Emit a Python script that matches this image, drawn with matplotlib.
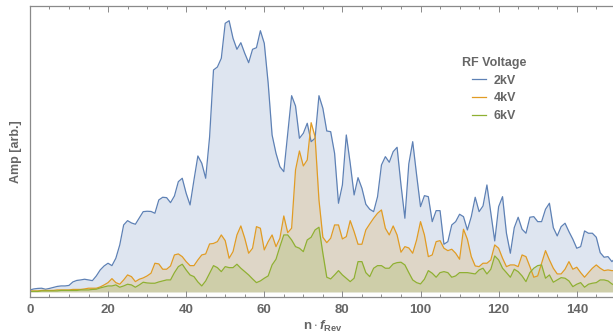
import numpy as np
import matplotlib
matplotlib.use('Agg')
from matplotlib import pyplot as plt
from matplotlib.ticker import MultipleLocator

plt.rcParams['font.family'] = ['Liberation Sans', 'DejaVu Sans']
plt.rcParams['mathtext.fontset'] = 'custom'
plt.rcParams['mathtext.rm'] = 'Liberation Sans:bold'
plt.rcParams['mathtext.it'] = 'Liberation Sans:italic:bold'
plt.rcParams['mathtext.bf'] = 'Liberation Sans:bold'

# amplitude per harmonic n = 0..150 (arbitrary units)
amp_2kv = [2, 3, 3.5, 3.7, 2.7, 3.5, 4.5, 5.5, 6, 6,
           6.5, 10, 11.5, 12, 12.7, 12, 11.3, 16, 22, 26,
           28.7, 26.3, 33.7, 47, 67, 71.3, 69, 67.7, 74, 80.3,
           80.7, 80.5, 78.7, 92, 94.7, 94.3, 89.3, 96, 110.3, 113.7,
           98.7, 87, 112, 136, 128.7, 113.7, 155, 222, 225, 233.7,
           268.7, 271.3, 253.7, 242.7, 249.3, 238.7, 229.3, 242.7, 244.3, 261.3,
           248.7, 208.7, 157, 138.7, 125.3, 120.3, 158.7, 196.3, 186, 153.7,
           158.7, 168.7, 150.3, 153.7, 196.3, 183.7, 161, 160.3, 138.7, 88.7,
           107, 157, 128.7, 97, 114.3, 103.7, 87.7, 82.7, 80.3, 95.3,
           127, 135.3, 129.7, 140.3, 144.7, 107, 73.7, 128, 150.3, 117,
           85.3, 96.3, 95.3, 70.3, 81.3, 81.3, 47.7, 50.3, 67, 70.3,
           77.7, 75.3, 62, 75.3, 94.7, 80.3, 86, 107, 78.7, 51,
           85.3, 95.3, 58.7, 38.7, 64.3, 74.7, 62.7, 58.7, 74.7, 75.3,
           70.3, 70.3, 82.7, 88.7, 64.3, 56, 65.3, 68.7, 60.3, 52.7,
           43.7, 45.3, 61, 58.7, 58.7, 54.7, 39.3, 34.7, 35.3, 30.3,
           34.3]
amp_4kv = [1, 1, 1, 1.5, 1.5, 1.5, 1.5, 2, 2, 2,
           2, 2.5, 2.5, 2.5, 3, 3.7, 3.7, 3.7, 5, 7,
           9.3, 13.3, 9.3, 7.7, 12, 17, 15.3, 10.3, 12.7, 14,
           16, 18.7, 28.7, 28, 22.7, 22.7, 26, 37, 38, 35.3,
           30.3, 26.3, 26.3, 32, 37, 38, 48, 48.5, 50.3, 57,
           51.3, 33.7, 40.3, 57, 66, 53.7, 38.7, 43.7, 65.3, 63.7,
           42, 50.3, 57, 45.3, 53.7, 76, 59.3, 63.7, 122, 141,
           126, 132, 169.3, 155.3, 92, 54.7, 49.3, 53.7, 67, 67,
           53, 55.3, 71.3, 60.3, 47.7, 47.7, 62, 68, 73.7, 78.7,
           82, 63.7, 57, 66, 57, 39.7, 45.3, 44, 38.7, 52,
           70.3, 57, 35.3, 37, 50.3, 51.3, 43.7, 41.3, 42.7, 38.7,
           32.7, 62.7, 52.7, 35.3, 26, 25.3, 28.7, 28.7, 32, 47,
           43.7, 33.7, 25.3, 27, 27, 25.3, 37, 35.3, 25.3, 14.7,
           16, 28.7, 41.3, 32, 23.7, 18, 18, 22.7, 30.3, 22.7,
           24.7, 19.3, 14.7, 19.3, 23.7, 27, 23.7, 21.3, 22, 21.3,
           21.3]
amp_6kv = [0.5, 0.5, 0.5, 1, 1, 1, 1, 1, 1.5, 1.5,
           1.5, 1.5, 1.5, 2, 2, 2, 2.5, 2.7, 4, 5,
           6, 6, 7, 4.7, 6, 7.7, 7, 4.7, 7, 9.7,
           9, 8.7, 8.7, 10, 11, 12, 12, 19.3, 25.3, 27.7,
           22, 17, 15.3, 10, 6, 11, 18.7, 26.3, 24.3, 20.3,
           25.3, 24.3, 24.3, 27.7, 23.7, 20.3, 17, 13, 9.3, 11,
           13.7, 16, 27, 32.7, 45.3, 57, 57, 52, 45.3, 43.7,
           40.3, 52, 54.7, 62, 64.7, 38.7, 14.7, 13, 17, 21.3,
           17, 13.7, 10.3, 13.7, 30.3, 30.3, 19.3, 15.3, 23.7, 26.3,
           26.3, 23.7, 23.7, 28, 29.3, 29.7, 27, 19.3, 12, 9.3,
           8, 12.7, 21.3, 18.7, 14.7, 19.3, 20.3, 19.3, 14.7, 16,
           19.3, 19.3, 19.3, 18.7, 18, 22, 23.7, 18, 22.7, 36,
           32, 23.7, 19.3, 14.7, 22.7, 20.3, 16, 10.3, 19.3, 23.7,
           26.3, 27, 13.7, 17, 9.7, 12, 14.3, 13.7, 11, 5.3,
           7.7, 9.3, 4.7, 7.7, 8.7, 9.3, 12, 12, 11, 8,
           6]

labels = ['2kV', '4kV', '6kV']
colors = ['#5E81B5', '#E19C24', '#8FB032']
n = np.arange(len(amp_2kv))

fig = plt.figure(figsize=(6.13, 3.34), dpi=100)
ax = fig.add_axes([0.0488, 0.111, 0.9558, 0.871])

for amp, c in zip([amp_2kv, amp_4kv, amp_6kv], colors):
	ax.fill_between(n, 0, amp, color=c, alpha=0.2, lw=0)
for amp, c, lab in zip([amp_2kv, amp_4kv, amp_6kv], colors, labels):
	ax.plot(n, amp, color=c, lw=0.9, label=lab)

ax.set_xlim(0, 150)
ax.set_ylim(-5, 286)

gray = '#8a8a8a'
txt = '#666666'
for s in ax.spines.values():
	s.set_color(gray)
	s.set_linewidth(0.9)

ax.xaxis.set_major_locator(MultipleLocator(20))
ax.xaxis.set_minor_locator(MultipleLocator(5))
ax.tick_params(axis='x', which='both', direction='in', top=True, color=gray, width=0.7)
ax.tick_params(axis='x', which='major', length=4.5, labelsize=9.5, labelcolor=txt, pad=5)
ax.tick_params(axis='x', which='minor', length=2.5)
ax.set_yticks([])
for t in ax.get_xticklabels():
	t.set_fontweight('bold')

ax.set_ylabel('Amp [arb.]', fontsize=9, fontweight='bold', color=txt, labelpad=6)
ax.set_xlabel(r'$\mathrm{n}\cdot f_{\mathrm{Rev}}$', fontsize=9.5, color=txt, labelpad=2)

leg = ax.legend(title='RF Voltage', loc='upper center', bbox_to_anchor=(494 / 613, 0.848),
				bbox_transform=fig.transFigure, frameon=False, handlelength=1.1,
				handletextpad=0.6, labelspacing=0.45, borderpad=0,
				prop={'weight': 'bold', 'size': 9})
leg.get_title().set_fontweight('bold')
leg.get_title().set_fontsize(9)
leg.get_title().set_color(txt)
for t in leg.get_texts():
	t.set_color(txt)

fig.savefig('out.png', dpi=100)
